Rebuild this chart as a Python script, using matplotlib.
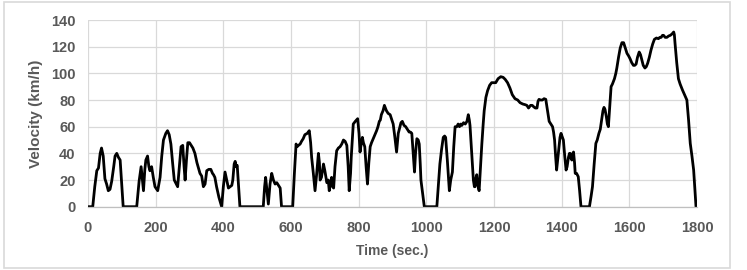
import numpy as np
import matplotlib
matplotlib.use('Agg')
import matplotlib.pyplot as plt
from matplotlib.patches import Rectangle

# WLTC-like velocity trace: time (s) and speed (km/h)
time_s = [
    0, 14, 20, 26, 31, 36, 40, 45, 50, 55, 60, 65, 70, 76, 80, 85, 90, 95, 100, 104,
    144, 151, 157, 161, 164, 168, 171, 176, 180, 183, 188, 193, 198, 206, 213, 218,
    223, 230, 235, 240, 245, 250, 255, 265, 270, 275, 280, 284, 287, 291, 295, 300,
    305, 310, 316, 322, 331, 336, 341, 346, 351, 357, 363, 368, 371, 375, 380, 387,
    395, 400, 405, 410, 415, 420, 425, 428, 432, 435, 438, 441, 445, 449,
    518, 522, 525, 529, 533, 538, 543, 548, 553, 558, 563, 568, 572,
    605, 610, 615, 618, 622, 627, 631, 636, 641, 648, 654, 658, 661, 666, 671, 676,
    681, 684, 686, 690, 696, 700, 706, 710, 713, 717, 720, 723, 726, 730, 735, 740,
    745, 750, 755, 760, 765, 769, 772, 776, 778, 784, 790, 797, 801, 804, 808, 811,
    814, 818, 822, 826, 830, 834, 838, 843, 848, 853, 857, 861, 864, 867, 872, 876,
    879, 882, 887, 893, 897, 902, 907, 912, 917, 922, 925, 929, 934, 939, 944, 949,
    953, 957, 961, 965, 968, 972, 976, 979, 982, 984, 989, 994,
    1031, 1036, 1040, 1045, 1050, 1054, 1057, 1062, 1068, 1072, 1077, 1081, 1085,
    1090, 1094, 1098, 1102, 1105, 1110, 1115, 1120, 1124, 1127, 1129, 1134, 1139,
    1142, 1144, 1147, 1149, 1151, 1154, 1156, 1160, 1164, 1168, 1171, 1176, 1181,
    1187, 1193, 1200, 1205, 1212, 1220, 1227, 1233, 1240, 1247, 1254, 1262, 1270,
    1277, 1285, 1292, 1297, 1302, 1308, 1313, 1317, 1322, 1327, 1330, 1333, 1338,
    1343, 1348, 1353, 1358, 1363, 1368, 1373, 1376, 1379, 1382, 1385, 1390, 1395,
    1398, 1402, 1405, 1409, 1413, 1416, 1420, 1423, 1425, 1428, 1430, 1433, 1435,
    1438, 1440, 1444, 1449, 1453, 1457,
    1482, 1487, 1491, 1496, 1501, 1505, 1510, 1514, 1518, 1522, 1525, 1528, 1532,
    1535, 1538, 1542, 1546, 1550, 1556, 1560, 1563, 1568, 1573, 1578, 1583, 1588,
    1593, 1598, 1602, 1607, 1612, 1616, 1620, 1624, 1629, 1633, 1637, 1641, 1646,
    1650, 1654, 1659, 1664, 1669, 1674, 1680, 1686, 1690, 1694, 1698, 1701, 1706,
    1711, 1716, 1721, 1726, 1731, 1733, 1735, 1740, 1745, 1750, 1757, 1763, 1770,
    1775, 1780, 1785, 1790, 1794, 1797, 1800,
]
speed_kmh = [
    0, 0, 15, 27, 29, 40, 44, 38, 21, 17, 12, 13, 19, 30, 38, 40, 37, 35, 15, 0,
    0, 19, 30, 20, 12, 28, 35, 38, 30, 27, 30, 22, 15, 12, 22, 38,
    50, 55, 57, 54, 47, 33, 20, 15, 30, 45, 46, 30, 20, 35, 48, 48,
    46, 44, 40, 33, 25, 23, 15, 17, 27, 28, 28, 25, 24, 22, 15, 7,
    0, 15, 26, 20, 14, 15, 16, 20, 32, 34, 30, 31, 15, 0,
    0, 15, 22, 12, 2, 17, 25, 20, 17, 18, 16, 14, 0,
    0, 25, 47, 45, 46, 47, 49, 51, 54, 55, 57, 48, 37, 25, 12, 25,
    40, 33, 20, 22, 32, 27, 18, 20, 12, 18, 22, 15, 14, 30, 42, 44,
    45, 47, 50, 49, 46, 30, 12, 25, 37, 62, 64, 66, 55, 41, 48, 52,
    48, 45, 30, 17, 33, 45, 48, 51, 54, 57, 60, 64, 65, 69, 72, 76,
    74, 72, 70, 69, 66, 62, 52, 41, 55, 60, 63, 64, 61, 60, 58, 56,
    56, 55, 40, 26, 40, 51, 50, 47, 32, 20, 10, 0,
    0, 18, 32, 43, 52, 53, 52, 35, 12, 20, 26, 45, 60,
    60, 62, 60, 62, 61, 63, 62, 64, 69, 65, 61, 40, 20,
    15, 15, 22, 24, 18, 14, 12, 30, 47, 62, 72, 82, 87,
    91, 93, 93, 93, 96, 97.5, 97, 95.5, 93, 89, 84, 81, 80,
    78, 77, 76.5, 76, 74, 76, 76, 75, 74, 74, 79, 80.5, 80,
    80, 81, 80.5, 72, 64, 62, 60, 56, 50, 38, 27.5, 40, 52,
    55, 52, 50, 38, 27.5, 30, 37, 40, 40, 36, 35, 40, 41,
    33, 25, 25, 22.5, 12, 0,
    0, 8, 15, 32, 47.5, 50, 55, 58, 65, 72, 74.5, 73, 67.5,
    62, 60, 75, 90, 92, 96, 100, 104, 112, 119, 123, 123, 119,
    115, 113, 111, 108, 106, 106, 107, 112, 116, 114, 110, 106, 104,
    105, 107.5, 112, 117.5, 122, 125.5, 126.5, 126, 127, 127, 128.5, 128.5, 127,
    127, 128, 128.5, 129.5, 131, 129, 122.5, 108, 96, 92, 87.5, 84, 80,
    65, 47.5, 38, 27.5, 12, 0, 0,
]
x_ticks = [0, 200, 400, 600, 800, 1000, 1200, 1400, 1600, 1800]
y_ticks = [0, 20, 40, 60, 80, 100, 120, 140]

TEXT_GRAY = '#595959'
GRID_GRAY = '#d9d9d9'

plt.rcParams['font.family'] = ['Liberation Sans', 'DejaVu Sans']

fig = plt.figure(figsize=(7.47, 2.70), dpi=100)
ax = fig.add_axes([0.1178, 0.2344, 0.8153, 0.6915])

ax.plot(time_s, speed_kmh, color='black', linewidth=2.0, solid_joinstyle='round')

ax.set_xlim(0, 1800)
ax.set_ylim(0, 140)
ax.set_xticks(x_ticks)
ax.set_yticks(y_ticks)
ax.grid(True, color=GRID_GRAY, linewidth=0.9)
ax.set_axisbelow(True)
for side in ['top', 'right', 'left']:
    ax.spines[side].set_visible(False)
ax.spines['bottom'].set_color('#bfbfbf')
ax.spines['bottom'].set_linewidth(0.9)

ax.tick_params(axis='both', length=0, labelsize=10.5, labelcolor=TEXT_GRAY)
ax.tick_params(axis='x', pad=10)
ax.tick_params(axis='y', pad=9)
for lbl in ax.get_xticklabels() + ax.get_yticklabels():
    lbl.set_fontweight('bold')

ax.set_xlabel('Time (sec.)', fontsize=10, fontweight='bold', color=TEXT_GRAY, labelpad=7)
ax.set_ylabel('Velocity (km/h)', fontsize=11, fontweight='bold', color=TEXT_GRAY, labelpad=6)

# light frame round the whole chart
fig.patches.append(Rectangle((4 / 747, 2 / 270), 726 / 747, 266 / 270, transform=fig.transFigure,
                             fill=False, edgecolor=GRID_GRAY, linewidth=1.2))

fig.savefig('out.png', dpi=100)
